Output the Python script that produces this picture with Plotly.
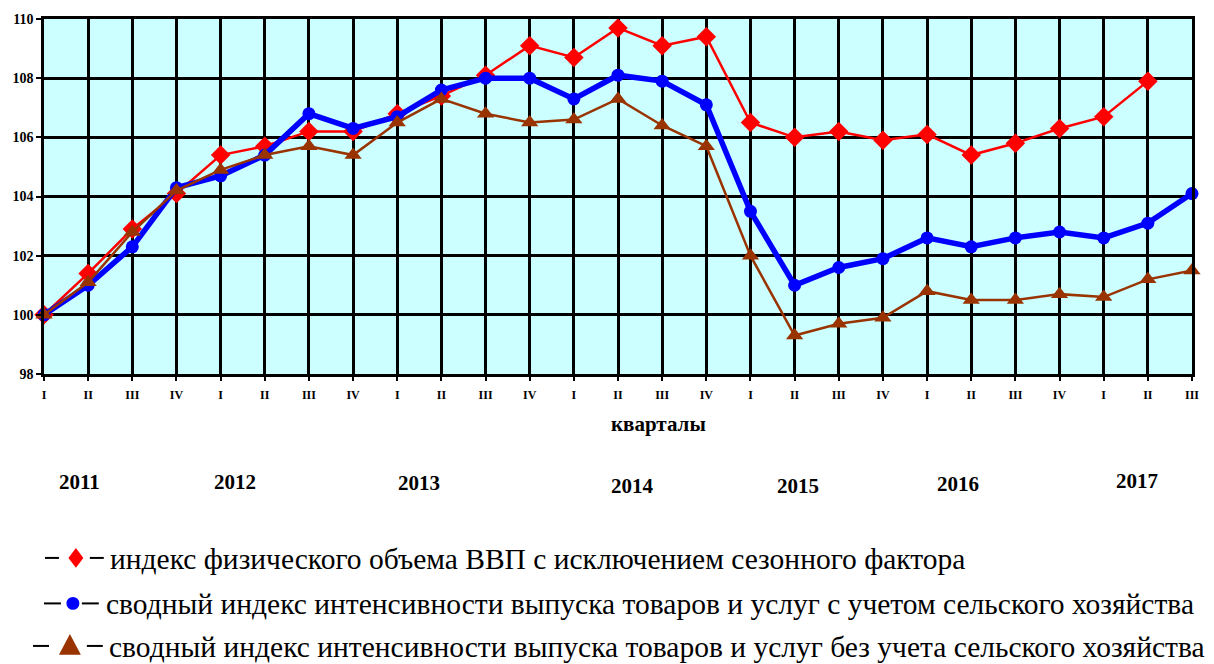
import plotly.graph_objects as go

# Quarters from 2011 Q1 to 2017 Q3
quarters = ["I", "II", "III", "IV"] * 6 + ["I", "II", "III"]
years = ["2011", "2012", "2013", "2014", "2015", "2016", "2017"]

gdp_sa = [100.0, 101.4, 102.9, 104.1, 105.4, 105.7, 106.2, 106.2, 106.8, 107.4,
          108.1, 109.1, 108.7, 109.7, 109.1, 109.4, 106.5, 106.0, 106.2, 105.9,
          106.1, 105.4, 105.8, 106.3, 106.7, 107.9, None]
output_with_agri = [100.0, 101.0, 102.3, 104.3, 104.7, 105.4, 106.8, 106.3, 106.7, 107.6,
                    108.0, 108.0, 107.3, 108.1, 107.9, 107.1, 103.5, 101.0, 101.6, 101.9,
                    102.6, 102.3, 102.6, 102.8, 102.6, 103.1, 104.1]
output_without_agri = [100.0, 101.1, 102.8, 104.2, 104.9, 105.4, 105.7, 105.4, 106.5, 107.3,
                       106.8, 106.5, 106.6, 107.3, 106.4, 105.7, 102.0, 99.3, 99.7, 99.9,
                       100.8, 100.5, 100.5, 100.7, 100.6, 101.2, 101.5]

legend_labels = [
    "индекс физического объема ВВП с исключением сезонного фактора",
    "сводный индекс интенсивности выпуска товаров и услуг с учетом сельского хозяйства",
    "сводный индекс интенсивности выпуска товаров и услуг без учета сельского хозяйства",
]

RED, BLUE, BROWN = "#FF0000", "#0000FF", "#993300"
SERIF = "Liberation Serif, Times New Roman, serif"

W, H = 1214, 664
ML, MR, MT, MB = 40, 22, 15, 290
PW, PH = W - ML - MR, H - MT - MB


def px(xp):
    """Page pixel column -> paper x."""
    return (xp - ML) / PW


def py(yp):
    """Page pixel row -> paper y."""
    return (H - MB - yp) / PH


x = list(range(len(quarters)))

fig = go.Figure()
fig.add_trace(go.Scatter(
    x=x, y=gdp_sa, mode="lines+markers",
    line=dict(color=RED, width=2.5),
    marker=dict(symbol="diamond", size=15, color=RED),
    cliponaxis=False, showlegend=False))
fig.add_trace(go.Scatter(
    x=x, y=output_with_agri, mode="lines+markers",
    line=dict(color=BLUE, width=5.5),
    marker=dict(symbol="circle", size=13, color=BLUE),
    cliponaxis=False, showlegend=False))
fig.add_trace(go.Scatter(
    x=x, y=output_without_agri, mode="lines+markers",
    line=dict(color=BROWN, width=2.5),
    marker=dict(symbol="triangle-up", size=15, color=BROWN),
    cliponaxis=False, showlegend=False))

fig.update_layout(
    width=W, height=H,
    margin=dict(l=ML, r=MR, t=MT, b=MB),
    paper_bgcolor="white",
    plot_bgcolor="#CCFFFF",
    font=dict(family=SERIF, color="black"),
)
fig.update_xaxes(
    range=[0, len(quarters) - 1],
    tickmode="array", tickvals=x, ticktext=quarters,
    tickfont=dict(family=SERIF, size=12, weight="bold"),
    ticklabelstandoff=4,
    showgrid=True, gridcolor="black", gridwidth=2.5,
    showline=True, linecolor="black", linewidth=2.5, mirror=True,
    ticks="outside", ticklen=4, tickwidth=2, tickcolor="black",
    zeroline=False,
)
fig.update_yaxes(
    range=[98, 110], tickmode="linear", tick0=98, dtick=2,
    tickfont=dict(family=SERIF, size=14, weight="bold"),
    showgrid=True, gridcolor="black", gridwidth=2.5,
    showline=True, linecolor="black", linewidth=2.5, mirror=True,
    ticks="outside", ticklen=5, tickwidth=2, tickcolor="black",
    zeroline=False,
)

# Axis caption and year labels under the quarter ticks
fig.add_annotation(x=px(657), y=py(425), xref="paper", yref="paper",
                   xanchor="center", yanchor="middle",
                   text="кварталы", showarrow=False,
                   font=dict(family=SERIF, size=21, weight="bold"))
year_x = [76, 232, 416, 631, 797, 957, 1137]
year_y = [483, 483, 484, 487, 487, 485, 482]
for yr, xp, yp in zip(years, year_x, year_y):
    fig.add_annotation(x=px(xp), y=py(yp), xref="paper", yref="paper",
                       xanchor="center", yanchor="middle",
                       text=yr, showarrow=False,
                       font=dict(family=SERIF, size=21, weight="bold"))

# Hand-made legend: black dash, coloured marker, black dash, then the label
rows = [
    dict(y=560, d1=(41, 55), d2=(86, 100), cx=72, kind="diamond", col=RED, tx=104),
    dict(y=606, d1=(40, 57), d2=(78, 95), cx=69, kind="circle", col=BLUE, tx=100),
    dict(y=649, d1=(29, 45), d2=(83, 99), cx=66, kind="triangle", col=BROWN, tx=103),
]
for row, label in zip(rows, legend_labels):
    yl = row["y"]
    for a, b in (row["d1"], row["d2"]):
        fig.add_shape(type="line", xref="paper", yref="paper",
                      x0=px(a), x1=px(b), y0=py(yl), y1=py(yl),
                      line=dict(color="black", width=2))
    cx = row["cx"]
    if row["kind"] == "diamond":
        path = (f"M {px(cx)},{py(yl - 10)} L {px(cx + 7.5)},{py(yl)} "
                f"L {px(cx)},{py(yl + 10)} L {px(cx - 7.5)},{py(yl)} Z")
        fig.add_shape(type="path", xref="paper", yref="paper", path=path,
                      fillcolor=row["col"], line=dict(width=0))
    elif row["kind"] == "circle":
        fig.add_shape(type="circle", xref="paper", yref="paper",
                      x0=px(cx - 6.5), x1=px(cx + 6.5), y0=py(yl + 6.5), y1=py(yl - 6.5),
                      fillcolor=row["col"], line=dict(width=0))
    else:
        path = (f"M {px(cx)},{py(yl - 12)} L {px(cx + 11)},{py(yl + 9)} "
                f"L {px(cx - 11)},{py(yl + 9)} Z")
        fig.add_shape(type="path", xref="paper", yref="paper", path=path,
                      fillcolor=row["col"], line=dict(width=0))
    fig.add_annotation(x=px(row["tx"]), y=py(yl + 1), xref="paper", yref="paper",
                       xanchor="left", yanchor="middle", text=label, showarrow=False,
                       font=dict(family=SERIF, size=29.5, color="black"))

fig.write_html("out.html")
